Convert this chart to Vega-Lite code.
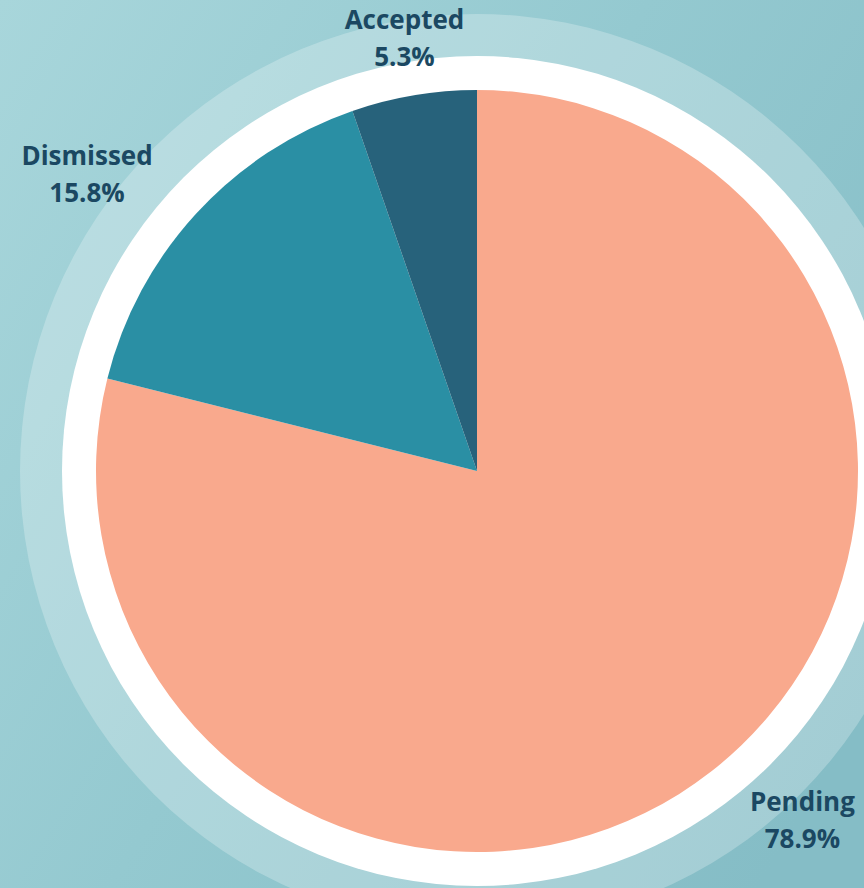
{
  "$schema": "https://vega.github.io/schema/vega-lite/v6.json",
  "width": 954,
  "height": 942,
  "autosize": {"type": "none"},
  "padding": 0,
  "background": "#a8d6db",
  "config": {"view": {"stroke": null}},
  "data": {
    "values": [
      {"status": "Pending", "share": 78.9},
      {"status": "Dismissed", "share": 15.8},
      {"status": "Accepted", "share": 5.3}
    ]
  },
  "transform": [
    {"calculate": "[datum.status, format(datum.share, '.1f') + '%']", "as": "label"}
  ],
  "resolve": {"scale": {"theta": "independent"}},
  "layer": [
    {
      "data": {"values": [{}]},
      "mark": {
        "type": "rect",
        "strokeWidth": 0,
        "color": {
          "gradient": "linear", "x1": 0, "y1": 0, "x2": 1, "y2": 0.6,
          "stops": [
            {"offset": 0, "color": "#a8d6db"},
            {"offset": 0.5, "color": "#94c9d0"},
            {"offset": 1, "color": "#85bdc6"}
          ]
        }
      },
      "encoding": {}
    },
    {
      "data": {"values": [{"v": 1}]},
      "mark": {"type": "arc", "radius": 457, "color": "#ffffff", "opacity": 0.25},
      "encoding": {"theta": {"field": "v", "type": "quantitative"}}
    },
    {
      "data": {"values": [{"v": 1}]},
      "mark": {"type": "arc", "radius": 415, "color": "#ffffff"},
      "encoding": {"theta": {"field": "v", "type": "quantitative"}}
    },
    {
      "layer": [
        {
          "mark": {"type": "arc", "radius": 381},
          "encoding": {
            "theta": {"field": "share", "type": "quantitative", "stack": true},
            "order": {"field": "status", "sort": "descending"},
            "color": {
              "field": "status", "type": "nominal", "legend": null,
              "scale": {
                "domain": ["Pending", "Dismissed", "Accepted"],
                "range": ["#f9a98d", "#2a8fa4", "#27627b"]
              }
            }
          }
        },
        {
          "mark": {
            "type": "text",
            "font": "Open Sans",
            "fontWeight": "bold",
            "fontSize": 26,
            "lineHeight": 37,
            "align": "center",
            "baseline": "middle",
            "color": "#1b4862",
            "radius": 480,
            "dx": {"expr": "datum.status === 'Pending' ? 30 : datum.status === 'Dismissed' ? -36 : 7"},
            "dy": {"expr": "datum.status === 'Pending' ? -46 : datum.status === 'Dismissed' ? 10 : 23"}
          },
          "encoding": {
            "theta": {"field": "share", "type": "quantitative", "stack": true},
            "order": {"field": "status", "sort": "descending"},
            "text": {"field": "label"}
          }
        }
      ]
    }
  ]
}
